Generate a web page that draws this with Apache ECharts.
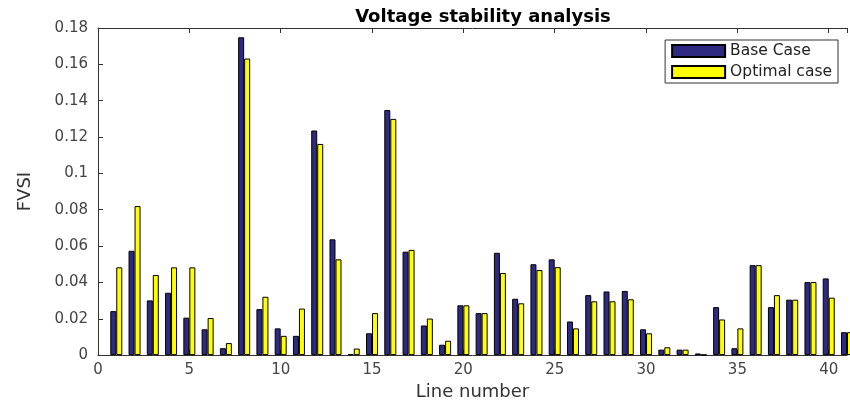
<!DOCTYPE html>
<html>
<head>
<meta charset="utf-8">
<script src="https://cdn.jsdelivr.net/npm/echarts@6/dist/echarts.min.js"></script>
<style>
  html, body { margin: 0; padding: 0; background: #fff; }
  #chart { width: 850px; height: 406px; }
</style>
</head>
<body>
<div id="chart"></div>
<script>
// line numbers 1..41
const lines = [1,2,3,4,5,6,7,8,9,10,11,12,13,14,15,16,17,18,19,20,21,22,23,24,25,26,27,28,29,30,31,32,33,34,35,36,37,38,39,40,41]

const baseCase = [
  0.0242, 0.0574, 0.0301, 0.0343, 0.0206, 0.0142, 0.0038, 0.1749, 0.0253, 0.0147,
  0.0106, 0.1236, 0.0637, 0.0005, 0.0120, 0.1349, 0.0569, 0.0163, 0.0057, 0.0274,
  0.0231, 0.0563, 0.0310, 0.0500, 0.0527, 0.0185, 0.0330, 0.0350, 0.0353, 0.0142,
  0.0030, 0.0030, 0.0009, 0.0264, 0.0038, 0.0495, 0.0264, 0.0305, 0.0402, 0.0422,
  0.0126
]

const optimalCase = [
  0.0483, 0.0820, 0.0441, 0.0483, 0.0483, 0.0204, 0.0066, 0.1632, 0.0321, 0.0106,
  0.0256, 0.1162, 0.0527, 0.0036, 0.0231, 0.1300, 0.0579, 0.0201, 0.0079, 0.0274,
  0.0231, 0.0452, 0.0285, 0.0468, 0.0484, 0.0147, 0.0296, 0.0296, 0.0307, 0.0120,
  0.0043, 0.0030, 0.0002, 0.0196, 0.0147, 0.0495, 0.0330, 0.0305, 0.0402, 0.0316,
  0.0126
]

const yTicks = ['0', '0.02', '0.04', '0.06', '0.08', '0.1', '0.12', '0.14', '0.16', '0.18']

const chart = echarts.init(document.getElementById('chart'))

const labelFont = 'DejaVu Sans, Arial, sans-serif'
const axisColor = '#333'

const option = {
  animation: false,
  backgroundColor: '#fff',
  title: {
    text: 'Voltage stability analysis',
    left: 478,
    textAlign: 'center',
    top: 3,
    textStyle: { fontFamily: labelFont, fontSize: 18, fontWeight: 'bold', color: '#000' }
  },
  legend: {
    orient: 'vertical',
    right: 12,
    top: 40,
    icon: 'rect',
    itemWidth: 53,
    itemHeight: 12,
    itemGap: 5,
    padding: [3, 6, 3, 6],
    borderColor: '#333',
    borderWidth: 1,
    borderRadius: 0,
    backgroundColor: '#fff',
    textStyle: { fontFamily: labelFont, fontSize: 15.5, color: '#222', padding: [0, 0, 0, 0] },
    data: ['Base Case', 'Optimal case']
  },
  grid: { left: 98, right: 3, top: 28, bottom: 44 },
  xAxis: [
    {
      type: 'value',
      min: 0,
      max: 41,
      interval: 5,
      name: 'Line number',
      nameLocation: 'middle',
      nameGap: 27,
      nameTextStyle: { fontFamily: labelFont, fontSize: 18, color: axisColor },
      axisLine: { show: true, lineStyle: { color: axisColor, width: 1 } },
      axisTick: { show: true, inside: true, length: 5, lineStyle: { color: axisColor } },
      axisLabel: {
        fontFamily: labelFont, fontSize: 15, color: '#444', margin: 8,
        formatter: v => (v % 5 === 0 ? String(v) : '')
      },
      splitLine: { show: false }
    },
    {
      type: 'value',
      position: 'top',
      min: 0,
      max: 41,
      interval: 5,
      axisLine: { show: true, lineStyle: { color: axisColor, width: 1 } },
      axisTick: { show: true, inside: true, length: 5, lineStyle: { color: axisColor } },
      axisLabel: { show: false },
      splitLine: { show: false }
    }
  ],
  yAxis: {
    type: 'value',
    min: 0,
    max: 0.18,
    interval: 0.02,
    name: 'FVSI',
    nameLocation: 'middle',
    nameGap: 64,
    nameTextStyle: { fontFamily: labelFont, fontSize: 18, color: axisColor },
    axisLine: { show: true, lineStyle: { color: axisColor, width: 1 } },
    axisTick: { show: true, inside: true, length: 5, lineStyle: { color: axisColor } },
    axisLabel: {
      fontFamily: labelFont, fontSize: 15, color: '#444', margin: 10,
      formatter: (v, i) => yTicks[i]
    },
    splitLine: { show: false }
  },
  series: [
    {
      name: 'Base Case',
      type: 'bar',
      barWidth: 6,
      barGap: '0%',
      data: lines.map((x, i) => [x, baseCase[i]]),
      itemStyle: { color: '#2e2a82', borderColor: '#000', borderWidth: 1 }
    },
    {
      name: 'Optimal case',
      type: 'bar',
      barWidth: 6,
      barGap: '0%',
      data: lines.map((x, i) => [x, optimalCase[i]]),
      itemStyle: { color: '#ffff00', borderColor: '#000', borderWidth: 1 }
    }
  ]
}

chart.setOption(option)
</script>
</body>
</html>
